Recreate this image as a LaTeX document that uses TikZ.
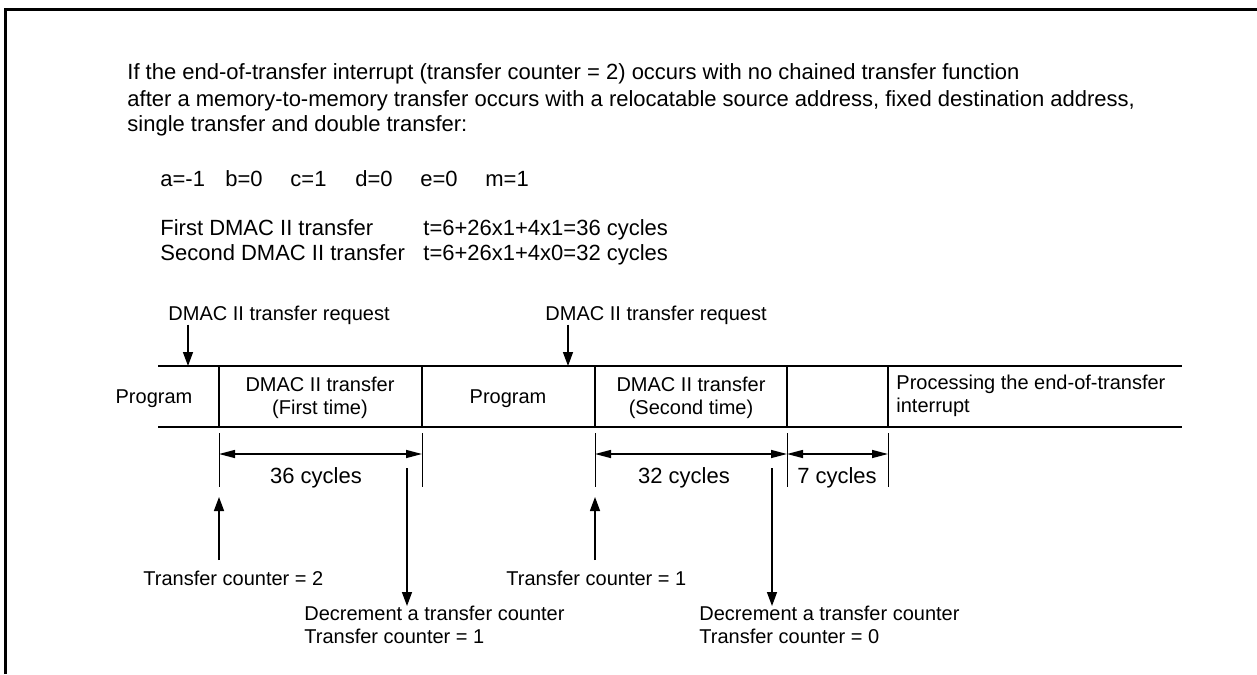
\documentclass[tikz,border=0pt]{standalone}
\usepackage{fontspec}
\setmainfont{Liberation Sans}
\usetikzlibrary{arrows.meta,positioning}

\tikzset{
  para/.style={font=\fontsize{11}{13}\selectfont, inner sep=0pt, anchor=base west},
  lbl/.style={font=\fontsize{10}{11.5}\selectfont, inner sep=0pt, align=center},
  cyc/.style={font=\fontsize{11}{13}\selectfont, inner sep=0pt},
  seg/.style={line width=1pt},
  tick/.style={line width=0.5pt},
  arr/.style={line width=0.7pt, -{Triangle[length=7pt,width=5pt]}},
  dim/.style={line width=0.7pt, {Triangle[length=8pt,width=4pt]}-{Triangle[length=8pt,width=4pt]}},
}

\begin{document}
\begin{tikzpicture}[x=0.5pt, y=-0.5pt]
\useasboundingbox (0,0) rectangle (1257,674);
\draw[line width=1.5pt] (5,674) -- (5,10) -- (1257,10);

% conditions of the example
\node[para] (cond1) at (127,80) {If the end-of-transfer interrupt (transfer counter = 2) occurs with no chained transfer function};
\node[para] (cond2) at (127,106) {after a memory-to-memory transfer occurs with a relocatable source address, fixed destination address,};
\node[para] (cond3) at (127,132) {single transfer and double transfer:};

\foreach \v [count=\i from 0] in {a=-1, b=0, c=1, d=0, e=0, m=1}
  \node[para] (var\i) at (160+65*\i,186) {\v};

\node[para] (first) at (160,235) {First DMAC II transfer};
\node[para] (second) at (160,260) {Second DMAC II transfer};
\node[para] (tfirst) at (423,235) {t=6+26x1+4x1=36 cycles};
\node[para] (tsecond) at (423,260) {t=6+26x1+4x0=32 cycles};

% time line
\draw[seg] (158,366) -- (1182,366);
\draw[seg] (158,427) -- (1182,427);
\foreach \n/\x in {s1/219, s2/422, s3/595, s4/787, s5/888} {
  \coordinate (\n t) at (\x,366);
  \coordinate (\n b) at (\x,427);
  \draw[seg] (\n t) -- (\n b);
  \draw[tick] (\x,433) -- (\x,487);
}

\node[lbl] (prog1) at (154,399) {Program};
\node[lbl] (dmac1) at (320,398) {DMAC II transfer\\(First time)};
\node[lbl] (prog2) at (508,399) {Program};
\node[lbl] (dmac2) at (691,398) {DMAC II transfer\\(Second time)};
\node[lbl, align=left, anchor=west] (isr) at (896,396) {Processing the end-of-transfer\\interrupt};

% transfer requests
\node[lbl, anchor=base west] (req1) at (168,320) {DMAC II transfer request};
\node[lbl, anchor=base west] (req2) at (545,320) {DMAC II transfer request};
\coordinate (hit1) at (188,366);
\coordinate (hit2) at (568,366);
\draw[arr] (req1.south -| hit1) -- (hit1);
\draw[arr] (req2.south -| hit2) -- (hit2);

% cycle counts
\coordinate (dimrow) at (0,454);
\draw[dim] (s1b |- dimrow) -- (s2b |- dimrow);
\draw[dim] (s3b |- dimrow) -- (s4b |- dimrow);
\draw[dim] (s4b |- dimrow) -- (s5b |- dimrow);
\node[cyc] (c36) at (316,478) {36 cycles};
\node[cyc] (c32) at (684,478) {32 cycles};
\node[cyc] (c7) at (837,478) {7 cycles};

% transfer counter
\node[lbl, anchor=base west] (cnt2) at (143,585) {Transfer counter = 2};
\node[lbl, anchor=base west] (cnt1) at (506,585) {Transfer counter = 1};
\coordinate (up1) at (219,497);
\coordinate (up2) at (595,497);
\draw[arr] (cnt2.north -| up1) ++(0,-10) coordinate (up1s) -- (up1);
\draw[arr] (cnt1.north -| up2) ++(0,-10) coordinate (up2s) -- (up2);

\node[lbl, align=left, anchor=north west] (dec1) at (304,606) {Decrement a transfer counter\\Transfer counter = 1};
\node[lbl, align=left, anchor=north west] (dec2) at (699,606) {Decrement a transfer counter\\Transfer counter = 0};
\coordinate (dn1) at (407,468);
\coordinate (dn2) at (772,468);
\draw[arr] (dn1) -- (dn1 |- dec1.north);
\draw[arr] (dn2) -- (dn2 |- dec2.north);
\end{tikzpicture}
\end{document}
